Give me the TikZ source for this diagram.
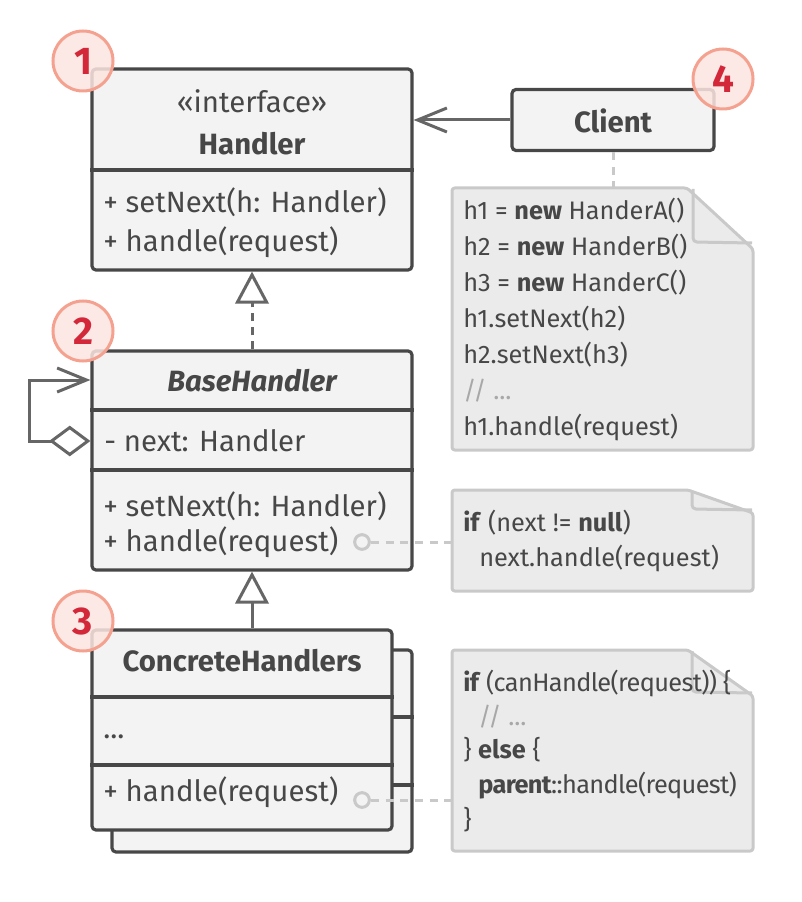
\documentclass[tikz,border=0pt]{standalone}
\usepackage{fontspec}
\setmainfont{Fira Sans}
\usetikzlibrary{arrows.meta}

\definecolor{ink}{HTML}{474747}
\definecolor{boxfill}{HTML}{F3F3F3}
\definecolor{wire}{HTML}{666666}
\definecolor{notefill}{HTML}{EBEBEB}
\definecolor{noteline}{HTML}{C9C9C9}
\definecolor{badgefill}{HTML}{FCE5E0}
\definecolor{badgeline}{HTML}{F5A190}
\definecolor{badgetext}{HTML}{D3283A}
\definecolor{remark}{HTML}{A8A8A8}

\tikzset{
  umlbox/.style={draw=ink, line width=2.4pt, fill=boxfill, rounded corners=3pt, inner sep=0pt},
  divider/.style={draw=ink, line width=2.4pt},
  member/.style={anchor=mid west, inner sep=0pt, yshift=-3pt, text=ink, font=\fontsize{22}{26}\selectfont},
  classname/.style={anchor=mid, inner sep=0pt, yshift=-3pt, text=ink, font=\fontsize{22}{26}\selectfont\bfseries},
  stereo/.style={anchor=mid, inner sep=0pt, yshift=-3pt, text=ink, font=\fontsize{22}{26}\selectfont},
  code/.style={anchor=mid west, inner sep=0pt, yshift=-1.5pt, text=ink, font=\fontsize{19}{23}\selectfont},
  tightcode/.style={code, font=\fontsize{19}{23}\selectfont\addfontfeatures{LetterSpace=-2.5}},
  note/.style={draw=noteline, line width=2.25pt, fill=notefill, rounded corners=2pt, line join=round},
  fold/.style={draw=noteline, line width=2.25pt, rounded corners=3pt},
  wireline/.style={draw=wire, line width=2.25pt},
  guide/.style={draw=noteline, line width=2.25pt, dash pattern=on 6pt off 5pt},
  anchordot/.style={circle, draw=noteline, line width=2.25pt, fill=boxfill, minimum size=11pt, inner sep=0pt},
  badge/.style={circle, draw=badgeline, line width=2.25pt, fill=badgefill, fill opacity=0.85,
    text opacity=1, text=badgetext, minimum size=45pt, inner sep=0pt,
    font=\fontsize{29}{29}\selectfont\bfseries},
  openhead/.tip={Straight Barb[length=22pt, width=18pt]},
  hollowtri/.tip={Triangle[open, fill=white, length=24pt, width=25pt]},
  hollowdiamond/.tip={Diamond[open, fill=white, length=31pt, width=23pt]},
}

\begin{document}
\begin{tikzpicture}[x=0.75pt, y=-0.75pt]
\useasboundingbox (0,0) rectangle (801,902);

% ---------- Handler interface ----------
\node[umlbox, minimum width=240pt, minimum height=150.75pt] (handler) at (252,169.5) {};
\draw[divider] (handler.west |- 0,170) -- (handler.east |- 0,170);
\node[stereo] (handler-st) at (252,104.5) {«interface»};
\node[classname] (handler-name) at (252,146.5) {Handler};
\node[member] (handler-m1) at (103,204.5) {+ setNext(h: Handler)};
\node[member] (handler-m2) at (103,243.5) {+ handle(request)};

% ---------- Client ----------
\node[umlbox, minimum width=151.5pt, minimum height=45.75pt] (client) at (613,120) {};
\node[classname] (client-name) at (613,124.5) {Client};

% ---------- BaseHandler ----------
\node[umlbox, minimum width=240pt, minimum height=164.25pt] (base) at (252,460.5) {};
\draw[divider] (base.west |- 0,410) -- (base.east |- 0,410);
\draw[divider] (base.west |- 0,470) -- (base.east |- 0,470);
\node[classname, font=\fontsize{22}{26}\selectfont\bfseries\itshape] (base-name) at (252,384) {BaseHandler};
\node[member] (base-f1) at (104,444) {- next: Handler};
\node[member] (base-m1) at (103,509) {+ setNext(h: Handler)};
\node[member] (base-m2) at (103,544) {+ handle(request)};

% ---------- ConcreteHandlers (stacked) ----------
\node[umlbox, minimum width=225pt, minimum height=151.5pt] (concrete-back) at (262,751) {};
\draw[divider] (concrete-back.west |- 0,717) -- (concrete-back.east |- 0,717);
\draw[divider] (concrete-back.west |- 0,785) -- (concrete-back.east |- 0,785);
\node[umlbox, minimum width=225pt, minimum height=150pt] (concrete) at (242,730) {};
\draw[divider] (concrete.west |- 0,697) -- (concrete.east |- 0,697);
\draw[divider] (concrete.west |- 0,765) -- (concrete.east |- 0,765);
\node[classname] (concrete-name) at (242,664) {ConcreteHandlers};
\node[member] (concrete-f1) at (103,731) {...};
\node[member] (concrete-m1) at (103,794) {+ handle(request)};

% ---------- Relations ----------
\draw[wireline, -{openhead}] (client.west) -- (handler.east |- client.west);
\draw[wireline, dash pattern=on 6pt off 4.5pt, -{hollowtri}] (base.north) -- (handler.south);
\draw[wireline, -{hollowtri}] (concrete.north -| base.south) -- (base.south);
\coordinate (next-in) at (base.west |- 0,441);
\coordinate (loop-in) at (base.west |- 0,380);
\draw[wireline, {hollowdiamond}-{openhead}] (next-in) -- ++(-61,0) |- (loop-in);

% ---------- Notes ----------
\draw[note] (452,188) -- (687,188) -- (753,249) -- (753,450) -- (452,450) -- cycle;
\draw[fold] (693,189) -- (693,242) -- (752,243);
\coordinate (note1-top) at (613,188);

\draw[note] (452,490) -- (688,490) -- (753,513) -- (753,591) -- (452,591) -- cycle;
\draw[fold] (692,491) -- (692,509) -- (752,510);
\coordinate (note2-west) at (452,542);

\draw[note] (452,650) -- (688,650) -- (753,696) -- (753,851) -- (452,851) -- cycle;
\draw[fold] (692,651) -- (692,692) -- (752,693);
\coordinate (note3-west) at (452,800);

\node[code] (n1-l1) at (463,214) {h1 = \textbf{new} HanderA()};
\node[code] (n1-l2) at (463,250) {h2 = \textbf{new} HanderB()};
\node[code] (n1-l3) at (463,286) {h3 = \textbf{new} HanderC()};
\node[code] (n1-l4) at (463,322) {h1.setNext(h2)};
\node[code] (n1-l5) at (463,358) {h2.setNext(h3)};
\node[code, text=remark] (n1-l6) at (463,394) {// ...};
\node[code] (n1-l7) at (463,430) {h1.handle(request)};

\node[code] (n2-l1) at (463,526) {\textbf{if} (next != \textbf{null})};
\node[code] (n2-l2) at (479,561) {next.handle(request)};

\node[tightcode] (n3-l1) at (463,686) {\textbf{if} (canHandle(request)) \{};
\node[code, text=remark] (n3-l2) at (478,720) {// ...};
\node[code] (n3-l3) at (463,753) {\} \textbf{else} \{};
\node[tightcode] (n3-l4) at (478,788) {\textbf{parent}::handle(request)};
\node[code] (n3-l5) at (463,823) {\}};

% ---------- Note links ----------
\draw[guide] (client.south) -- (note1-top);
\node[anchordot] (base-dot) at (362,542) {};
\draw[guide] (base-dot.east) -- (note2-west);
\node[anchordot] (concrete-dot) at (362,800) {};
\draw[guide] (concrete-dot.east) -- (note3-west);

% ---------- Step badges ----------
\node[badge] (badge1) at (83,61) {1};
\node[badge] (badge2) at (83,331) {2};
\node[badge] (badge3) at (83,621) {3};
\node[badge] (badge4) at (723,79) {4};
\end{tikzpicture}
\end{document}
